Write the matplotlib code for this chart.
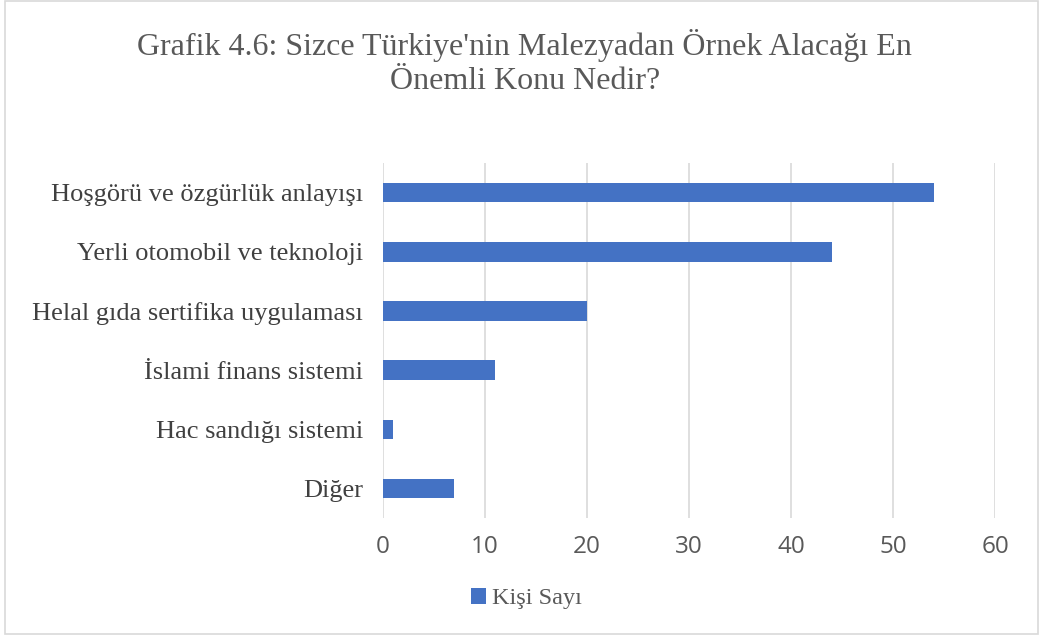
import matplotlib
matplotlib.use("Agg")
import matplotlib.pyplot as plt
from matplotlib.patches import Rectangle

categories = ["Hoşgörü ve özgürlük anlayışı", "Yerli otomobil ve teknoloji",
              "Helal gıda sertifika uygulaması", "İslami finans sistemi",
              "Hac sandığı sistemi", "Diğer"]
values = [54, 44, 20, 11, 1, 7]
xticks = [0, 10, 20, 30, 40, 50, 60]
series_name = "Kişi Sayı"
title = "Grafik 4.6: Sizce Türkiye'nin Malezyadan Örnek Alacağı En\nÖnemli Konu Nedir?"

bar_color = "#4472C4"
serif = ["Liberation Serif", "DejaVu Serif"]

fig = plt.figure(figsize=(10.43, 6.39), dpi=100)
fig.patch.set_facecolor("white")
fig.add_artist(Rectangle((0.005, 0.008), 0.99, 0.99, transform=fig.transFigure,
                         fill=False, edgecolor="#D9D9D9", linewidth=1.2))

ax = fig.add_axes([0.367, 0.189, 0.587, 0.556])
ypos = list(range(len(categories)))[::-1]
ax.barh(ypos, values, height=0.33, color=bar_color, label=series_name, zorder=3)
ax.set_xlim(0, 60)
ax.set_ylim(-0.5, len(categories) - 0.5)
ax.set_xticks(xticks)
ax.set_xticklabels([str(t) for t in xticks], fontfamily="Open Sans", fontsize=17.5, color="#595959")
ax.set_yticks(ypos)
ax.set_yticklabels(categories, fontfamily=serif, fontsize=19, color="#404040")
ax.tick_params(axis="both", length=0)
ax.tick_params(axis="x", pad=12)
ax.tick_params(axis="y", pad=14)
ax.grid(axis="x", color="#D9D9D9", linewidth=1.2, zorder=0)
for s in ax.spines.values():
    s.set_visible(False)

fig.text(0.503, 0.902, title, ha="center", va="center", fontfamily=serif,
         fontsize=23, color="#595959", linespacing=1.25)

leg = fig.legend(loc="center", bbox_to_anchor=(0.505, 0.063), frameon=False,
                 prop={"family": serif, "size": 17.5}, handlelength=0.6, handleheight=0.6,
                 handletextpad=0.25)
for t in leg.get_texts():
    t.set_color("#595959")

fig.savefig("out.png", dpi=100, facecolor="white")
